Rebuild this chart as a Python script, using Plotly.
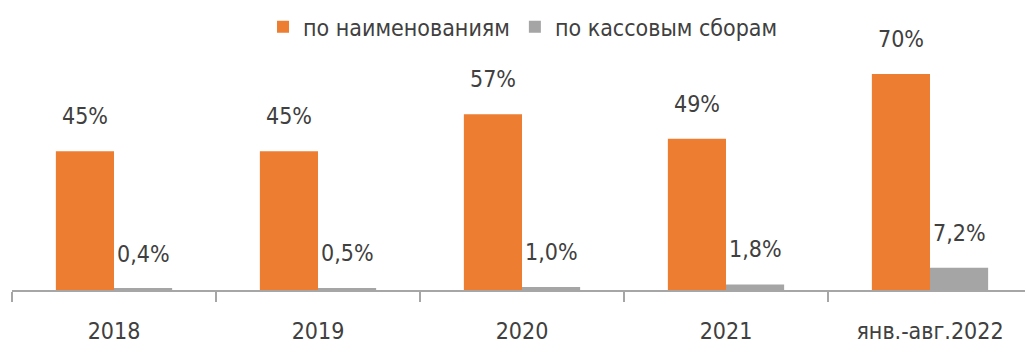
import plotly.graph_objects as go

categories = ["2018", "2019", "2020", "2021", "янв.-авг.2022"]
titles_share = [45, 45, 57, 49, 70]
box_office_share = [0.4, 0.5, 1.0, 1.8, 7.2]
titles_labels = ["45%", "45%", "57%", "49%", "70%"]
box_office_labels = ["0,4%", "0,5%", "1,0%", "1,8%", "7,2%"]
series_names = ["по наименованиям", "по кассовым сборам"]

ORANGE = "#ED7D31"
GRAY = "#A5A5A5"
TEXT = "#404040"
FONT = "DejaVu Sans Condensed, DejaVu Sans, sans-serif"
FS = 23

fig = go.Figure()
fig.add_trace(go.Bar(x=categories, y=titles_share, name=series_names[0],
                     marker=dict(color=ORANGE, line=dict(width=0))))
fig.add_trace(go.Bar(x=categories, y=box_office_share, name=series_names[1],
                     marker=dict(color=GRAY, line=dict(width=0))))

# annotations on a category axis use the category index
for i, (v, lab) in enumerate(zip(titles_share, titles_labels)):
    fig.add_annotation(x=i, y=v, text=lab, showarrow=False, xshift=-29,
                       yshift=35, yanchor="middle", xanchor="center",
                       font=dict(family=FONT, size=FS, color=TEXT))
for i, (v, lab) in enumerate(zip(box_office_share, box_office_labels)):
    fig.add_annotation(x=i, y=v, text=lab, showarrow=False, xshift=29,
                       yshift=35, yanchor="middle", xanchor="center",
                       font=dict(family=FONT, size=FS, color=TEXT))

# the page body adds an 8px offset, so the figure is 8px smaller each way
fig.update_layout(
    width=1025, height=339,
    margin=dict(l=4, r=1, t=0, b=57, autoexpand=False),
    plot_bgcolor="white", paper_bgcolor="white",
    barmode="group", bargap=0.43, bargroupgap=0,
    font=dict(family=FONT, size=FS, color=TEXT),
    legend=dict(orientation="h", x=0.501, xanchor="center", y=0.933, yanchor="middle",
                font=dict(family=FONT, size=FS, color=TEXT),
                itemwidth=30, tracegroupgap=0, bgcolor="rgba(0,0,0,0)"),
    xaxis=dict(type="category", range=[-0.5, 4.5], showline=True,
               linecolor="#A6A6A6", linewidth=1.5, automargin=False,
               ticks="outside", tickson="boundaries", ticklen=10,
               tickcolor="#A6A6A6", tickwidth=1.5, showgrid=False,
               tickfont=dict(family=FONT, size=FS, color=TEXT),
               ticklabelstandoff=20, tickangle=0),
    yaxis=dict(range=[0, 91.4], visible=False, showgrid=False, zeroline=False,
               automargin=False),
)

fig.write_html("out.html")
